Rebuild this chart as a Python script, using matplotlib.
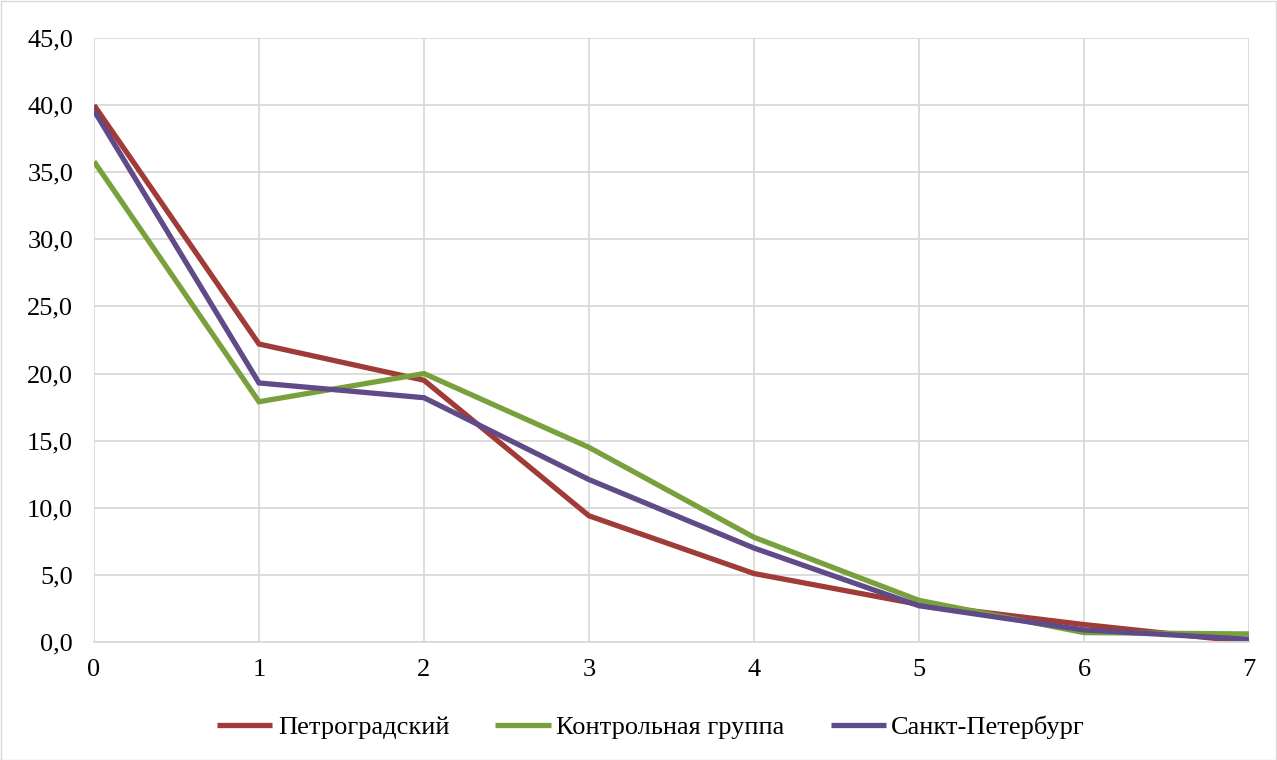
import matplotlib
matplotlib.use("Agg")
import matplotlib.pyplot as plt
from matplotlib.ticker import FuncFormatter

x = [0, 1, 2, 3, 4, 5, 6, 7]
petrograd = [40.0, 22.2, 19.5, 9.4, 5.1, 2.8, 1.3, 0.0]
control = [35.8, 17.9, 20.0, 14.5, 7.8, 3.1, 0.7, 0.6]
spb = [39.6, 19.3, 18.2, 12.1, 7.0, 2.7, 0.9, 0.2]
names = ["Петроградский", "Контрольная группа", "Санкт-Петербург"]
colors = ["#A03B37", "#78A03C", "#604A88"]

plt.rcParams['font.family'] = ['Liberation Serif', 'DejaVu Serif']

fig = plt.figure(figsize=(12.77, 7.6), dpi=100)
ax = fig.add_axes([94/1277, 1 - 642/760, (1249-94)/1277, (642-38)/760])

for ys, n, c in zip([petrograd, control, spb], names, colors):
    ax.plot(x, ys, color=c, lw=3.8, label=n, solid_capstyle='butt', solid_joinstyle='miter')

ax.set_xlim(0, 7)
ax.set_ylim(0, 45)
ax.set_yticks(range(0, 46, 5))
ax.set_xticks(x)
ax.yaxis.set_major_formatter(FuncFormatter(lambda v, p: f"{v:.1f}".replace('.', ',')))
ax.grid(True, color='#D9D9D9', lw=1.3)
ax.set_axisbelow(True)
for s in ['top', 'right', 'left']:
    ax.spines[s].set_visible(False)
ax.spines['bottom'].set_color('#D9D9D9')
ax.spines['bottom'].set_linewidth(1.3)
ax.tick_params(axis='both', length=0, labelsize=19, colors='black')
ax.tick_params(axis='y', pad=15)
ax.tick_params(axis='x', pad=12)

leg = fig.legend(loc='center', bbox_to_anchor=(651/1277, 1 - 727/760), ncol=3, frameon=False,
                 fontsize=19, handlelength=2.1, handletextpad=0.2, columnspacing=1.75)

fig.patches.append(plt.Rectangle((0.5/1277, 0.5/760), 1 - 1.5/1277, 1 - 1.5/760, transform=fig.transFigure,
                                 fill=False, edgecolor='#D9D9D9', lw=1))
fig.savefig("out.png", dpi=100)
